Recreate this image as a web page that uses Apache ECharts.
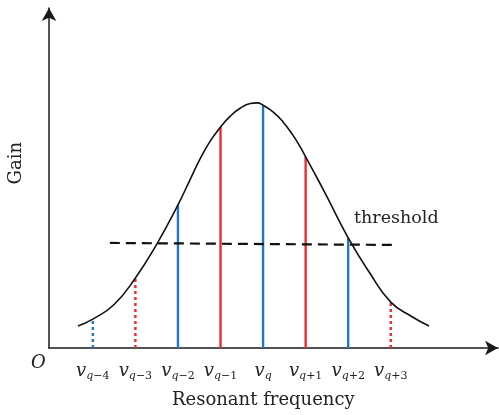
<!DOCTYPE html>
<html lang="en">
<head>
    <meta charset="UTF-8">
    <title>Gain curve</title>
    <script src="https://cdn.jsdelivr.net/npm/echarts@6/dist/echarts.min.js"></script>
    <style>
        html, body {
            margin: 0;
            padding: 0;
            background: #fff;
        }
    </style>
</head>
<body>
<div id="chart" style="width: 499px;height: 415px;"></div>
<script>
    // longitudinal modes, q-4 ... q+3
    var modeKeys = [-4, -3, -2, -1, 0, 1, 2, 3];
    var modeNames = ['q−4', 'q−3', 'q−2', 'q−1', 'q', 'q+1', 'q+2', 'q+3'];
    var modeGain = [0.085, 0.206, 0.421, 0.650, 0.714, 0.562, 0.324, 0.135];

    // gain curve
    var curveX = [-4.35, -4, -3.5, -3, -2.5, -2, -1.72, -1.48, -1.25, -1, -0.77, -0.54, -0.3, -0.14, 0,
        0.24, 0.47, 0.7, 0.87, 1, 1.27, 1.5, 2, 2.5, 3, 3.5, 3.9];
    var curveY = [0.065, 0.085, 0.128, 0.206, 0.305, 0.421, 0.494, 0.556, 0.607, 0.650, 0.682, 0.705, 0.719, 0.721, 0.714,
        0.694, 0.665, 0.626, 0.592, 0.562, 0.500, 0.445, 0.324, 0.222, 0.135, 0.092, 0.065];

    // threshold line ends
    var thrX = [-3.6, 3.14];
    var thrY = [0.309, 0.303];

    var thrLevel = 0.31;
    var blue = '#1f78c8';
    var red = '#ee2a2f';
    var serif = '"DejaVu Serif", "Liberation Serif", serif';

    var chart = echarts.init(document.getElementById('chart'));

    var modeData = modeKeys.map(function (k, i) {
        return [k, modeGain[i]];
    });

    chart.setOption({
        animation: false,
        grid: {left: 49, right: 1, top: 8, bottom: 67},
        xAxis: {
            type: 'value',
            min: -5.03,
            max: 5.52,
            splitLine: {show: false},
            axisTick: {show: false},
            axisLine: {
                onZero: false,
                symbol: ['none', 'arrow'],
                symbolSize: [11, 13],
                lineStyle: {color: '#1a1a1a', width: 1.5}
            },
            axisLabel: {
                customValues: modeKeys,
                margin: 12,
                formatter: function (v) {
                    var i = modeKeys.indexOf(v);
                    if (i < 0) return '';
                    var n = modeNames[i];
                    return '{v|v}{q|q}{s|' + n.slice(1) + '}';
                },
                rich: {
                    v: {fontFamily: serif, fontStyle: 'italic', fontSize: 18, color: '#222'},
                    q: {fontFamily: serif, fontStyle: 'italic', fontSize: 11, color: '#222', padding: [11, 0, 0, 0]},
                    s: {fontFamily: serif, fontSize: 11, color: '#222', padding: [11, 0, 0, 0]}
                }
            }
        },
        yAxis: {
            type: 'value',
            min: 0,
            max: 1,
            splitLine: {show: false},
            axisTick: {show: false},
            axisLabel: {show: false},
            axisLine: {
                show: true,
                onZero: false,
                symbol: ['none', 'arrow'],
                symbolSize: [11, 13],
                lineStyle: {color: '#1a1a1a', width: 1.5}
            }
        },
        graphic: [
            {type: 'text', left: 31, top: 354, style: {text: 'O', font: 'italic 18px ' + serif, fill: '#222'}},
            {type: 'text', left: 172, top: 391, style: {text: 'Resonant frequency', font: '18px ' + serif, fill: '#222'}},
            {type: 'text', left: 354, top: 209, style: {text: 'threshold', font: '17.5px ' + serif, fill: '#222'}},
            {type: 'text', left: 7, top: 142, rotation: Math.PI / 2, style: {text: 'Gain', font: '18px ' + serif, fill: '#222'}}
        ],
        series: [
            {
                type: 'custom',
                data: modeData,
                z: 2,
                renderItem: function (params, api) {
                    var k = api.value(0);
                    var g = api.value(1);
                    var p0 = api.coord([k, 0]);
                    var p1 = api.coord([k, g]);
                    return {
                        type: 'line',
                        shape: {x1: p0[0], y1: p0[1], x2: p1[0], y2: p1[1]},
                        style: {
                            stroke: Math.abs(k) % 2 === 0 ? blue : red,
                            lineWidth: 2.4,
                            lineDash: g < thrLevel ? [3, 3] : null
                        }
                    };
                }
            },
            {
                type: 'line',
                data: curveX.map(function (x, i) { return [x, curveY[i]]; }),
                smooth: 0.5,
                symbol: 'none',
                z: 3,
                lineStyle: {color: '#111', width: 1.6}
            },
            {
                type: 'line',
                data: thrX.map(function (x, i) { return [x, thrY[i]]; }),
                symbol: 'none',
                z: 4,
                lineStyle: {color: '#111', width: 2.2, type: [10, 6]}
            }
        ]
    });
</script>
</body>
</html>
